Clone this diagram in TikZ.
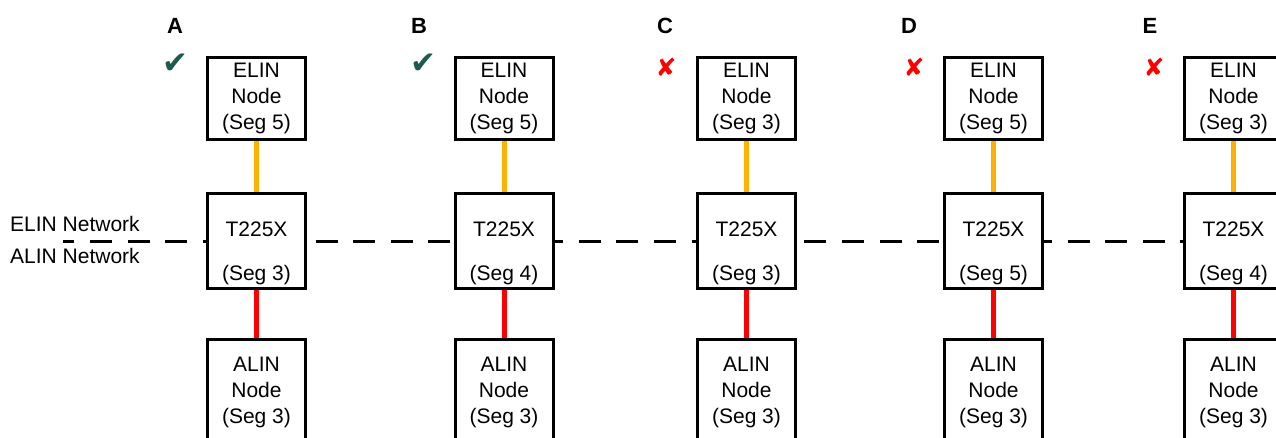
\documentclass[tikz,border=0pt]{standalone}
\usepackage{fontspec}
\setmainfont{Liberation Sans}
\newfontfamily\symfont{DejaVu Sans}
\usetikzlibrary{backgrounds}
\definecolor{elinorange}{HTML}{FFB000}
\definecolor{okgreen}{HTML}{1E5B4F}
\definecolor{badred}{HTML}{FF0000}
\begin{document}
\begin{tikzpicture}[x=1pt,y=-1pt,
  box/.style={draw=black,line width=3pt,fill=white,minimum width=98pt,inner sep=0pt,align=center,font=\fontsize{21}{26}\selectfont},
  elinbox/.style={box,minimum height=82pt},
  tbox/.style={box,minimum height=95pt},
  alinbox/.style={box,minimum height=106pt},
  txt/.style={inner sep=0pt,anchor=base,font=\fontsize{21}{26}\selectfont},
  colhead/.style={inner sep=0pt,anchor=base,font=\fontsize{22}{24}\selectfont\bfseries},
  okmark/.style={inner sep=0pt,text=okgreen,font=\symfont\fontsize{31}{32}\selectfont},
  badmark/.style={inner sep=0pt,text=badred,font=\symfont\fontsize{25}{26}\selectfont},
  elinlink/.style={draw=elinorange,line width=5pt},
  alinlink/.style={draw=badred,line width=5pt},
  netline/.style={draw=black,line width=3pt,dash pattern=on 22pt off 15.6pt,dash phase=10.6pt},
  nettext/.style={inner sep=0pt,anchor=base west,font=\fontsize{21}{26}\selectfont}
]
\useasboundingbox (0,0) rectangle (1276,438);
\clip (0,0) rectangle (1276,438);

\node[nettext] (elinnet) at (10,232) {ELIN Network};
\node[nettext] (alinnet) at (10,263) {ALIN Network};

\foreach \n/\x/\hx/\es/\ts in {A/256.5/175/5/3, B/504/419/5/4, C/746.5/665/3/3, D/993.5/909/5/5, E/1233.5/1150/3/4}{
  \node[colhead] (h\n) at (\hx,34) {\n};
  \node[elinbox] (e\n) at (\x,98.5) {ELIN\\Node\\(Seg \es)};
  \node[tbox] (t\n) at (\x,241) {};
  \node[txt] (tt\n) at (\x,237) {T225X};
  \node[txt] (ts\n) at (\x,280) {(Seg \ts)};
  \node[alinbox] (a\n) at (\x,392.5) {ALIN\\Node\\(Seg 3)};
  \draw[elinlink] (e\n) -- (t\n);
  \draw[alinlink] (t\n) -- (a\n);
}
\node[okmark] (mA) at (175,64) {✔};
\node[okmark] (mB) at (423,64) {✔};
\node[badmark] (mC) at (666,67.5) {✘};
\node[badmark] (mD) at (914,67.5) {✘};
\node[badmark] (mE) at (1154,67.5) {✘};

\coordinate (netstart) at (63,241.5);
\begin{pgfonlayer}{background}
  \draw[netline] (netstart) -- (netstart -| tE.west);
\end{pgfonlayer}
\end{tikzpicture}
\end{document}
